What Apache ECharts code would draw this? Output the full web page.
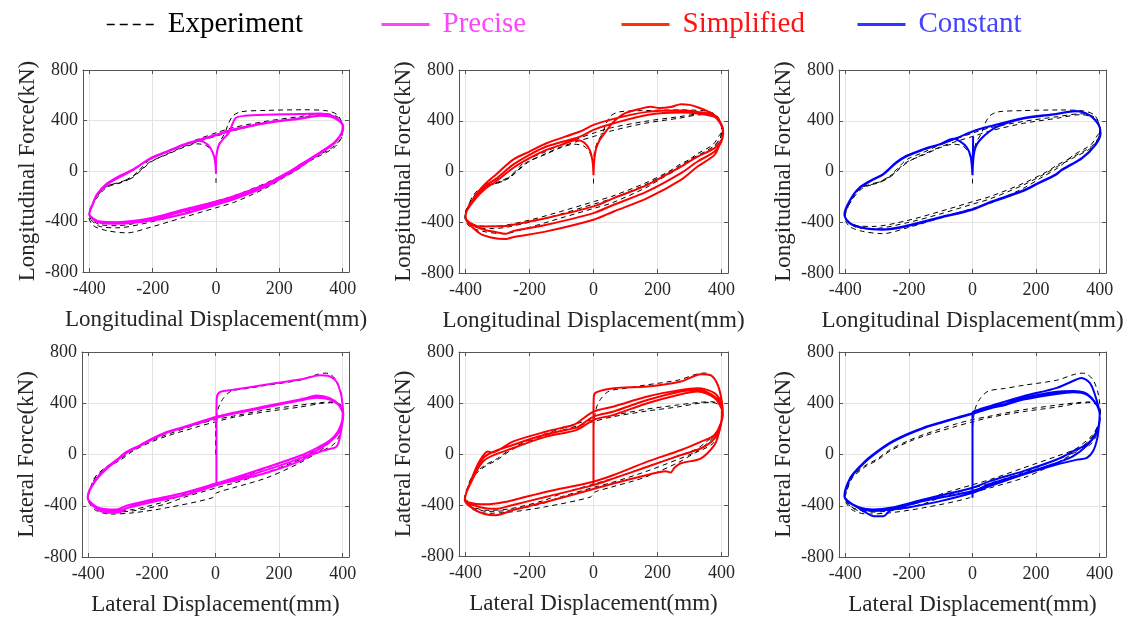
<!DOCTYPE html>
<html><head><meta charset="utf-8">
<script src="https://cdn.jsdelivr.net/npm/echarts@6/dist/echarts.min.js"></script>
<style>html,body{margin:0;padding:0;background:#fff}#c{width:1137px;height:619px}</style>
</head><body><div id="c"></div><script>
const X_TICKS = [-400, -200, 0, 200, 400];
const Y_TICKS = [-800, -400, 0, 400, 800];

const EXP_LONG = [
[0,-95],[0,60],[3,150],[12,230],[28,300],[40,380],[55,440],[80,470],[160,480],[270,485],[350,477],[383,446],[398,380],[402,320],
[393,285],[372,210],[319,131],[267,26],[214,-52],[161,-131],[56,-249],[3,-289],[-102,-367],[-208,-446],[-282,-490],[-345,-472],[-387,-433],[-402,-360],
[-397,-315],[-376,-190],[-345,-118],[-303,-95],[-271,-60],[-240,13],[-208,92],[-155,150],[-102,210],[-50,258],[3,305],[56,345],[161,395],[267,432],[340,455],[383,430],[400,350],
[398,280],[375,200],[320,120],[267,52],[235,0],[161,-92],[56,-197],[3,-236],[-102,-315],[-208,-388],[-313,-433],[-366,-425],[-398,-370],
[-400,-330],[-380,-220],[-350,-130],[-300,-85],[-265,-55],[-230,20],[-200,80],[-150,140],[-100,195],[-50,238],[3,278],[56,320],[161,380],[267,420],[340,448],[383,420],[400,345],
[398,275],[372,184],[319,110],[267,40],[230,-15],[161,-105],[56,-215],[3,-255],[-102,-335],[-208,-405],[-313,-450],[-366,-440],[-398,-375],
[-400,-340],[-378,-220],[-345,-130],[-300,-90],[-250,-20],[-210,70],[-150,135],[-100,190],[-60,215],[-30,200],[-12,150],[-3,80],[0,0]
];
const PRE_LONG = [
[0,-20],[0,80],[3,150],[10,210],[25,260],[40,300],[50,360],[62,420],[90,437],[161,446],[267,451],[330,456],[372,433],[398,380],[402,340],
[396,290],[380,240],[361,200],[319,131],[267,40],[234,-5],[161,-110],[56,-215],[3,-255],[-102,-320],[-208,-385],[-314,-414],[-366,-407],[-400,-341],
[-390,-270],[-376,-190],[-345,-110],[-313,-60],[-260,10],[-208,100],[-155,155],[-102,210],[-50,250],[3,290],[56,330],[161,385],[267,418],[330,440],[372,425],[400,360],
[396,300],[375,230],[330,150],[267,52],[234,0],[161,-100],[56,-200],[3,-240],[-102,-305],[-208,-375],[-314,-405],[-366,-400],[-400,-338],
[-390,-265],[-376,-185],[-345,-100],[-313,-50],[-260,15],[-208,95],[-155,150],[-102,205],[-50,245],[3,285],[56,325],[161,380],[267,414],[330,438],[372,422],[400,358],
[396,295],[372,215],[320,125],[267,35],[234,-15],[161,-120],[56,-225],[3,-265],[-102,-340],[-208,-395],[-314,-418],[-366,-410],[-400,-342],
[-390,-265],[-376,-185],[-345,-100],[-313,-50],[-260,15],[-208,100],[-155,155],[-102,205],[-60,240],[-39,230],[-18,184],[-5,105],[0,-13]
];
const SIM_LONG = [
[0,-30],[2,80],[8,180],[20,250],[40,320],[63,393],[95,455],[140,490],[178,511],[205,500],[241,508],[273,530],[300,525],[325,506],[360,470],[385,430],[400,370],
[405,320],[400,250],[378,184],[325,118],[273,39],[168,-105],[63,-210],[0,-275],[-147,-367],[-252,-420],[-273,-430],[-357,-433],[-399,-367],
[-399,-340],[-367,-184],[-336,-92],[-305,-26],[-252,92],[-200,157],[-147,223],[-42,315],[0,367],[63,415],[168,470],[273,480],[325,470],[378,440],[400,360],
[405,310],[400,240],[378,157],[325,79],[273,-13],[168,-157],[63,-262],[0,-328],[-147,-420],[-252,-470],[-273,-490],[-300,-480],[-357,-446],[-399,-367],
[-399,-340],[-367,-200],[-336,-110],[-305,-58],[-252,52],[-200,131],[-147,197],[-42,275],[0,328],[63,380],[168,446],[273,465],[325,458],[378,430],[400,360],
[405,300],[395,220],[378,131],[325,39],[273,-66],[168,-210],[63,-315],[0,-380],[-147,-472],[-252,-519],[-273,-532],[-320,-520],[-357,-485],[-399,-367],
[-399,-340],[-367,-210],[-336,-131],[-305,-79],[-252,26],[-200,105],[-147,170],[-100,210],[-52,249],[-30,230],[-12,170],[-3,80],[0,-30]
];
const CON_LONG = [
[2,275],[1,100],[0,-30],[2,80],[6,160],[14,215],[28,260],[48,305],[75,350],[157,415],[262,452],[324,474],[366,446],[397,367],[403,300],
[387,210],[345,105],[282,13],[262,-26],[209,-92],[157,-157],[52,-249],[0,-302],[-105,-367],[-209,-433],[-282,-459],[-345,-446],[-387,-407],[-403,-341],
[-387,-236],[-356,-131],[-314,-66],[-282,-26],[-241,66],[-209,118],[-157,170],[-105,212],[-52,262],[0,315],[52,354],[157,420],[262,454],[324,477],[366,446],[397,367],[403,302],
[387,212],[345,108],[282,16],[262,-22],[209,-88],[157,-152],[52,-244],[0,-298],[-105,-362],[-209,-428],[-282,-455],[-345,-443],[-387,-404],[-403,-338],
[-387,-232],[-356,-128],[-314,-62],[-282,-22],[-241,70],[-209,122],[-157,174],[-105,214],[-60,258],[-38,235],[-18,190],[-6,120],[0,-30]
];

const EXP_LAT = [
[0,0],[0,200],[4,300],[10,370],[25,440],[50,495],[100,515],[160,540],[265,580],[320,625],[345,635],[360,628],[380,580],[395,480],[400,400],[402,320],
[400,260],[390,150],[372,80],[345,40],[318,10],[266,-65],[161,-182],[56,-260],[3,-300],[-10,-338],[-154,-416],[-259,-455],[-330,-465],[-380,-430],[-402,-340],
[-400,-320],[-380,-190],[-340,-100],[-300,-45],[-258,30],[-200,100],[-154,143],[-50,221],[0,255],[56,290],[161,335],[265,370],[330,398],[370,405],[395,380],[402,330],
[398,250],[380,160],[345,80],[318,35],[266,-13],[161,-104],[56,-195],[3,-234],[-100,-310],[-154,-364],[-259,-429],[-330,-442],[-380,-410],[-402,-330],
[-400,-315],[-380,-180],[-340,-90],[-300,-35],[-258,40],[-200,110],[-154,155],[-50,240],[0,272],[56,300],[161,350],[265,385],[330,405],[370,410],[395,385],[402,330],
[398,245],[380,150],[345,60],[318,15],[266,-40],[161,-140],[56,-225],[3,-260],[-100,-335],[-154,-385],[-259,-440],[-330,-450],[-380,-415],[-402,-332]
];
const PRE_LAT = [
[3,-234],[3,0],[3,300],[4,440],[10,480],[25,495],[55,505],[161,546],[266,585],[330,619],[353,615],[380,570],[395,470],[400,380],[402,312],
[398,230],[390,120],[380,60],[355,40],[340,30],[300,-5],[266,-52],[161,-143],[56,-208],[3,-234],[-100,-300],[-210,-365],[-280,-420],[-300,-450],[-330,-455],[-370,-430],[-402,-340],
[-402,-330],[-378,-208],[-345,-117],[-312,-52],[-280,13],[-238,65],[-206,109],[-154,169],[-101,208],[-49,247],[3,286],[56,317],[161,369],[266,421],[318,442],[360,429],[386,390],[400,330],
[398,260],[385,180],[360,110],[318,50],[266,-10],[161,-100],[56,-185],[3,-225],[-101,-300],[-206,-355],[-280,-400],[-312,-430],[-364,-420],[-402,-335],
[-402,-325],[-378,-200],[-345,-108],[-312,-44],[-280,20],[-238,72],[-206,116],[-154,176],[-101,215],[-49,255],[3,294],[56,326],[161,378],[266,430],[318,452],[360,438],[386,395],[400,330],
[398,250],[385,160],[355,90],[318,30],[266,-30],[161,-120],[56,-200],[3,-240],[-101,-320],[-206,-375],[-280,-420],[-312,-445],[-364,-425],[-402,-338],
[-402,-328],[-378,-204],[-345,-112],[-312,-48],[-280,16],[-238,68],[-206,112],[-154,172],[-101,211],[-49,251],[3,290],[56,321],[161,373],[266,426],[318,460],[360,440],[386,392],[400,330]
];
const SIM_LAT = [
[0,-244],[0,0],[0,300],[1,450],[10,485],[63,516],[168,529],[273,569],[336,626],[367,616],[388,542],[401,411],[404,307],
[400,254],[390,150],[378,71],[336,-34],[273,-73],[252,-110],[241,-145],[225,-135],[168,-165],[63,-231],[0,-275],[-147,-375],[-252,-440],[-305,-480],[-340,-470],[-375,-430],[-402,-362],
[-380,-191],[-357,-60],[-330,20],[-318,12],[-252,97],[-147,176],[-63,228],[-50,245],[0,333],[63,372],[168,451],[273,503],[325,516],[378,477],[401,380],
[400,262],[378,123],[336,45],[273,-8],[168,-100],[63,-191],[0,-244],[-147,-335],[-252,-400],[-305,-430],[-350,-420],[-402,-358],
[-380,-200],[-340,-21],[-252,71],[-147,155],[-52,207],[-40,225],[0,293],[63,333],[168,424],[273,490],[325,503],[378,451],[401,360],
[400,270],[378,149],[336,97],[273,31],[168,-60],[63,-165],[0,-217],[-147,-296],[-252,-362],[-305,-388],[-350,-395],[-402,-355],
[-380,-210],[-340,-47],[-252,45],[-147,136],[-52,189],[0,267],[63,307],[168,398],[273,469],[325,490],[378,440],[401,350]
];
const CON_LAT = [
[0,-338],[0,0],[0,325],[20,350],[55,377],[160,455],[265,520],[327,585],[343,598],[369,559],[385,468],[400,312],
[398,230],[392,120],[380,30],[360,-26],[330,-40],[265,-78],[160,-156],[55,-247],[0,-299],[-101,-364],[-206,-416],[-258,-435],[-280,-481],[-311,-481],[-342,-442],[-384,-377],[-403,-325],
[-384,-182],[-342,-65],[-311,0],[-258,91],[-206,156],[-154,208],[-101,247],[-49,286],[0,320],[55,359],[108,390],[160,429],[265,473],[317,486],[359,468],[390,390],[400,325],
[400,280],[390,180],[365,90],[317,26],[265,-39],[160,-130],[55,-208],[0,-260],[-154,-351],[-258,-416],[-311,-429],[-360,-410],[-403,-330],
[-384,-185],[-342,-68],[-311,-3],[-258,88],[-206,153],[-154,205],[-101,245],[-49,284],[0,318],[55,362],[108,398],[160,440],[265,490],[317,495],[359,475],[390,392],[400,325],
[400,270],[388,160],[360,70],[317,-13],[265,-65],[160,-150],[55,-230],[0,-285],[-154,-364],[-258,-429],[-311,-440],[-360,-415],[-403,-330],
[-384,-180],[-342,-62],[-311,3],[-258,94],[-206,158],[-154,210],[-101,250],[-49,288],[0,322],[55,365],[108,395],[160,435],[265,482],[317,490],[359,470],[390,390],[400,325]
];

const F = '"Liberation Serif", "Times New Roman", serif';
const TXT = '#262626', AX = '#555555', GRIDC = '#e3e3e3';
const GRIDS = [
  {left:83, top:70, width:266, height:202},
  {left:459, top:70, width:269, height:203},
  {left:839, top:70, width:267, height:203},
  {left:82, top:352, width:267, height:205},
  {left:459, top:352, width:269, height:204},
  {left:839, top:352, width:267, height:205}
];
const PANELS = [
  {exp:EXP_LONG, sim:PRE_LONG, name:'Precise', color:'#FF00FF', xn:'Longitudinal Displacement(mm)', yn:'Longitudinal Force(kN)'},
  {exp:EXP_LONG, sim:SIM_LONG, name:'Simplified', color:'#FF0000', xn:'Longitudinal Displacement(mm)', yn:'Longitudinal Force(kN)'},
  {exp:EXP_LONG, sim:CON_LONG, name:'Constant', color:'#0000FF', xn:'Longitudinal Displacement(mm)', yn:'Longitudinal Force(kN)'},
  {exp:EXP_LAT, sim:PRE_LAT, name:'Precise', color:'#FF00FF', xn:'Lateral Displacement(mm)', yn:'Lateral Force(kN)'},
  {exp:EXP_LAT, sim:SIM_LAT, name:'Simplified', color:'#FF0000', xn:'Lateral Displacement(mm)', yn:'Lateral Force(kN)'},
  {exp:EXP_LAT, sim:CON_LAT, name:'Constant', color:'#0000FF', xn:'Lateral Displacement(mm)', yn:'Lateral Force(kN)'}
];

const xAxis = [], yAxis = [], series = [];
PANELS.forEach((p, i) => {
  const tick = {inside:true, length:4, customValues:X_TICKS, lineStyle:{color:AX}};
  xAxis.push({type:'value', gridIndex:i, position:'bottom', min:-420, max:420,
    name:p.xn, nameLocation:'middle', nameGap:36,
    nameTextStyle:{fontFamily:F, fontSize:23, color:TXT},
    axisLine:{onZero:false, lineStyle:{color:AX, width:1}},
    axisTick:tick,
    axisLabel:{customValues:X_TICKS, fontFamily:F, fontSize:18, color:TXT, margin:8},
    splitLine:{show:true, lineStyle:{color:GRIDC, width:1}}});
  xAxis.push({type:'value', gridIndex:i, position:'top', min:-420, max:420,
    axisLine:{onZero:false, lineStyle:{color:AX, width:1}},
    axisTick:tick, axisLabel:{show:false}, splitLine:{show:false}});
  const ytick = {inside:true, length:4, lineStyle:{color:AX}};
  yAxis.push({type:'value', gridIndex:i, position:'left', min:-800, max:800, interval:400,
    name:p.yn, nameLocation:'middle', nameGap:44,
    nameTextStyle:{fontFamily:F, fontSize:23, color:TXT},
    axisLine:{show:true, onZero:false, lineStyle:{color:AX, width:1}},
    axisTick:ytick,
    axisLabel:{fontFamily:F, fontSize:18, color:TXT, margin:5},
    splitLine:{show:true, lineStyle:{color:GRIDC, width:1}}});
  yAxis.push({type:'value', gridIndex:i, position:'right', min:-800, max:800, interval:400,
    axisLine:{show:true, onZero:false, lineStyle:{color:AX, width:1}},
    axisTick:ytick, axisLabel:{show:false}, splitLine:{show:false}});
  series.push({type:'line', name:p.name, xAxisIndex:2*i, yAxisIndex:2*i, data:p.sim,
    symbol:'none', smooth:0.3, lineStyle:{color:p.color, width:2}, itemStyle:{color:p.color}, z:3, animation:false});
  series.push({type:'line', name:'Experiment', xAxisIndex:2*i, yAxisIndex:2*i, data:p.exp,
    symbol:'none', smooth:0.3, lineStyle:{color:'#000', width:1, type:[5,4]}, itemStyle:{color:'#000'}, z:2, animation:false});
});

const LEG = [
  {name:'Experiment', left:106, line:'#000000', text:'#000000', dash:[8,5], w:1.5},
  {name:'Precise', left:380, line:'#FF44FF', text:'#FF44FF', dash:'solid', w:3},
  {name:'Simplified', left:620, line:'#FF3300', text:'#FF1111', dash:'solid', w:3},
  {name:'Constant', left:856, line:'#3333FF', text:'#4444FF', dash:'solid', w:3}
];
const legend = LEG.map(l => ({
  left:l.left, top:10, padding:0, itemWidth:48, itemHeight:14, selectedMode:false,
  data:[{name:l.name, lineStyle:{color:l.line, width:l.w, type:l.dash},
         itemStyle:{color:'rgba(0,0,0,0)', borderColor:'rgba(0,0,0,0)', borderWidth:0, opacity:0}}],
  formatter: n => '{t|' + n + '}',
  textStyle:{fontFamily:F, fontSize:29, color:l.text,
    rich:{t:{fontFamily:F, fontSize:29, color:l.text, padding:[0,0,0,8]}}}
}));

const chart = echarts.init(document.getElementById('c'), null, {renderer:'canvas'});
chart.setOption({
  animation:false, backgroundColor:'#ffffff',
  grid: GRIDS.map(g => Object.assign({containLabel:false}, g)),
  legend, xAxis, yAxis, series
});
</script></body></html>
